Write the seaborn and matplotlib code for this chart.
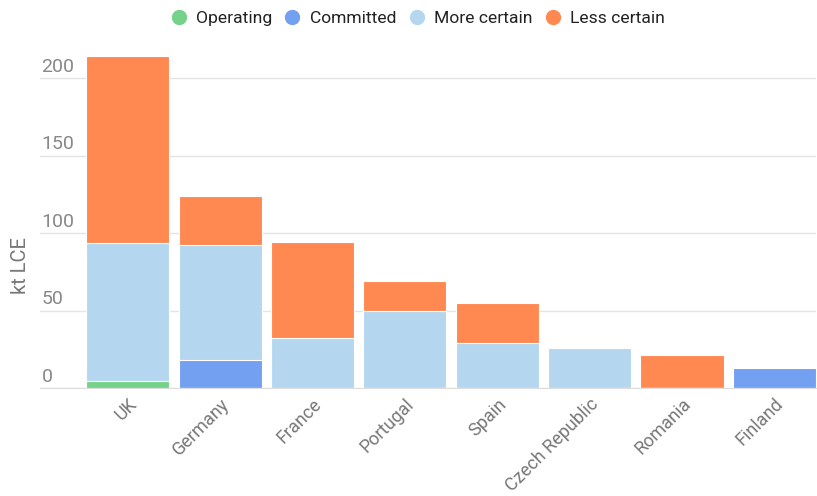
import pandas as pd
import numpy as np
from matplotlib import pyplot as plt
from matplotlib.lines import Line2D
import matplotlib.transforms as mtransforms
import seaborn as sns

countries = ['UK', 'Germany', 'France', 'Portugal', 'Spain', 'Czech Republic', 'Romania', 'Finland']
operating = [4.3, 0, 0, 0, 0, 0, 0, 0]
committed = [0, 18.3, 0, 0, 0, 0, 0, 13]
more_certain = [89.4, 74.2, 32, 50, 29, 26, 0, 0]
less_certain = [120.5, 31.5, 62, 19, 26, 0, 21, 0]

series = ['Operating', 'Committed', 'More certain', 'Less certain']
colors = ['#74d28a', '#73a0f0', '#b4d7ef', '#ff8951']

sns.set_style('white')
plt.rcParams['font.family'] = ['Roboto', 'DejaVu Sans']

df = pd.DataFrame({'country': countries, 'Operating': operating, 'Committed': committed,
                   'More certain': more_certain, 'Less certain': less_certain})
cum = df[series].cumsum(axis=1)

fig = plt.figure(figsize=(8.17, 4.96), dpi=100)
ax = fig.add_axes([40 / 817, 108 / 496, 776 / 817, 341 / 496])

# draw cumulative totals from the top layer down so they stack
for s, c in reversed(list(zip(series, colors))):
    sns.barplot(x=df['country'], y=cum[s], color=c, width=0.9, edgecolor='white',
                linewidth=0.8, saturation=1, ax=ax)

ax.set_xlim(-0.95, 7.45)
ax.set_ylim(0, 220)
ax.set_yticks([0, 50, 100, 150, 200])
ax.grid(axis='y', color='#e4e4e4', linewidth=1)
ax.set_axisbelow(True)
for sp in ['top', 'right', 'left']:
    ax.spines[sp].set_visible(False)
ax.spines['bottom'].set_color('#dddddd')

ax.tick_params(axis='y', length=0, pad=-1, labelsize=14, labelcolor='#888888')
offset = mtransforms.ScaledTranslation(0, 1.5 / 72, fig.dpi_scale_trans)
for lab in ax.get_yticklabels():
    lab.set_horizontalalignment('left')
    lab.set_verticalalignment('bottom')
    lab.set_transform(lab.get_transform() + offset)

ax.tick_params(axis='x', length=0, pad=5, labelsize=13, labelcolor='#777777')
plt.setp(ax.get_xticklabels(), rotation=45, ha='right', rotation_mode='anchor')
ax.set_xlabel('')
ax.set_ylabel('kt LCE', fontsize=14.5, color='#777777')
ax.yaxis.set_label_coords(-0.013, 0.36)

handles = [Line2D([], [], marker='o', linestyle='', markersize=10, markerfacecolor=c,
                  markeredgecolor=c) for c in colors]
fig.legend(handles, series, loc='center', bbox_to_anchor=(0.511, 0.963), ncol=4, frameon=False,
           fontsize=12.6, handlelength=1, handletextpad=0.5, columnspacing=0.65,
           labelcolor='#222222')

fig.savefig('out.png', dpi=100)
